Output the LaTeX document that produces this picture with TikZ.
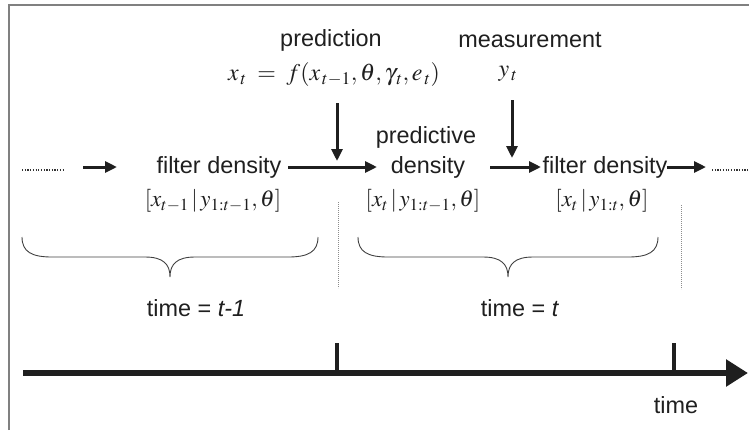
\documentclass[tikz,border=0pt]{standalone}
\usepackage{mathptmx}
\usepackage[no-math]{fontspec}
\setmainfont{Liberation Sans}
\usetikzlibrary{arrows.meta}
\begin{document}
\begin{tikzpicture}[x=1bp,y=-1bp,
  lbl/.style={font=\fontsize{23.5}{27}\selectfont, inner sep=0pt, text=black!88},
  mth/.style={font=\fontsize{23}{27}\selectfont, inner sep=0pt, text=black!88},
  bigmth/.style={font=\fontsize{24}{28}\selectfont, inner sep=0pt, text=black!88},
  flow/.style={line width=3bp, black!88, -{Triangle[length=12bp,width=11bp]}},
  dots/.style={line width=1.3bp, black!80, dash pattern=on 1.2bp off 1.5bp},
  vsep/.style={line width=0.8bp, black!45, dash pattern=on 1bp off 1bp},
  bracecurve/.style={line width=0.9bp, black!75},
  frameline/.style={line width=1.6bp, black!50},
  axisline/.style={line width=5.5bp, black!88, -{Triangle[length=22bp,width=26bp]}},
  tickline/.style={line width=3.5bp, black!88}]
\useasboundingbox (0,0) rectangle (749,430);
% frame
\draw[frameline] (9,430) -- (9,5) -- (749,5);
% top labels
\node[lbl] (pred) at (331,40) {prediction};
\node[bigmth] (predf) at (334,75) {$x_{\,t} \;=\; f(x_{\,t-1},\theta,\gamma_{\,t},e_{\,t})$};
\node[lbl] (meas) at (530,40) {measurement};
\node[bigmth] (yt) at (508,74) {$y_{\,t}$};
% row
\node[lbl] (fd1) at (219,167) {filter density};
\node[mth] (fd1m) at (213,201) {$[x_{t-1}\,|\,y_{1{:}t-1},\theta]$};
\node[lbl] (pd1) at (426,137) {predictive};
\node[lbl] (pd2) at (428,167) {density};
\node[mth] (pdm) at (423,201) {$[x_t\,|\,y_{1{:}t-1},\theta]$};
\node[lbl] (fd2) at (605,167) {filter density};
\node[mth] (fd2m) at (602,201) {$[x_t\,|\,y_{1{:}t},\theta]$};
% free ends
\coordinate (dl1) at (22,170); \coordinate (dl2) at (65,170);
\coordinate (a0s) at (83,167); \coordinate (a0e) at (117,167);
\coordinate (a1s) at (288,167); \coordinate (a1e) at (377,167);
\coordinate (a2s) at (490,167); \coordinate (a2e) at (541,167);
\coordinate (a3s) at (667,167); \coordinate (a3e) at (706,167);
\coordinate (dr1) at (712,170); \coordinate (dr2) at (748,170);
\coordinate (d1s) at (337,103); \coordinate (d1e) at (337,161);
\coordinate (d2s) at (512,100); \coordinate (d2e) at (512,158);
% connectors
\draw[dots] (dl1) -- (dl2);
\draw[flow] (a0s) -- (a0e);
\draw[flow] (a1s) -- (a1e);
\draw[flow] (a2s) -- (a2e);
\draw[flow] (a3s) -- (a3e);
\draw[dots] (dr1) -- (dr2);
\draw[flow] (d1s) -- (d1e);
\draw[flow] (d2s) -- (d2e);
% separators
\draw[vsep] (338,202) -- (338,288);
\draw[vsep] (681,205) -- (681,289);
% braces
\draw[bracecurve] (22,237) .. controls (22,252) and (32,257) .. (52,257) -- (145,257)
  .. controls (163,257) and (170,264) .. (170,277)
  .. controls (170,264) and (177,257) .. (195,257) -- (288,257)
  .. controls (308,257) and (318,252) .. (318,237);
\draw[bracecurve] (358,237) .. controls (358,252) and (368,257) .. (388,257) -- (483,257)
  .. controls (501,257) and (508,264) .. (508,277)
  .. controls (508,264) and (515,257) .. (533,257) -- (628,257)
  .. controls (648,257) and (658,252) .. (658,237);
% time labels
\node[lbl] (tm1) at (196,308) {time = \textit{t-1}};
\node[lbl] (tm0) at (520,308) {time = \textit{t}};
% axis
\coordinate (ax0) at (23,373); \coordinate (ax1) at (748,373);
\draw[axisline] (ax0) -- (ax1);
\coordinate (t1a) at (337,343); \coordinate (t1b) at (337,373);
\coordinate (t2a) at (674,343); \coordinate (t2b) at (674,373);
\draw[tickline] (t1a) -- (t1b);
\draw[tickline] (t2a) -- (t2b);
\node[lbl] (tlab) at (676,405) {time};
\end{tikzpicture}
\end{document}
